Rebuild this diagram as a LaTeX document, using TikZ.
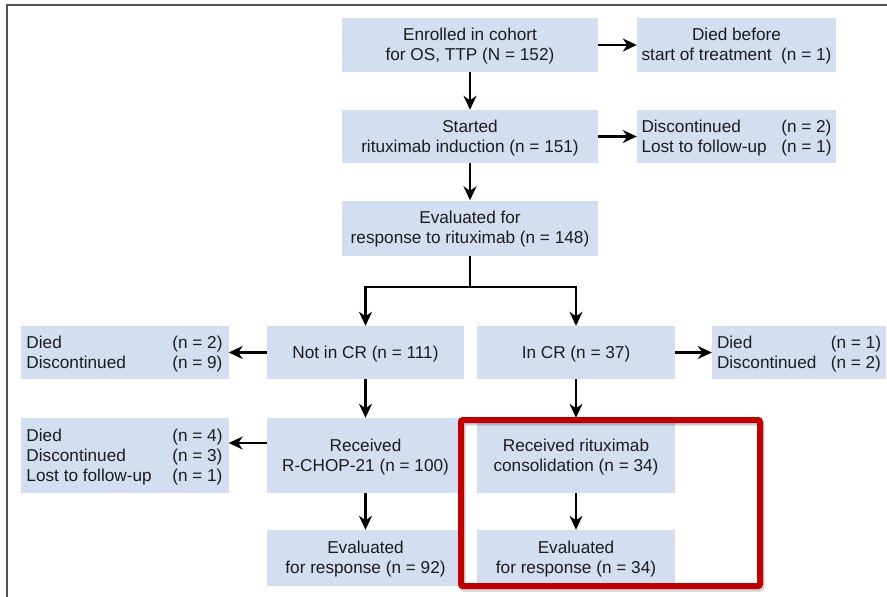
\documentclass[tikz,border=0pt]{standalone}
\usepackage{fontspec}
\setmainfont{Liberation Sans}
\usetikzlibrary{arrows.meta}
\definecolor{boxblue}{HTML}{D3DEF1}
\definecolor{textc}{HTML}{1E1B1C}
\definecolor{framec}{HTML}{505050}
\definecolor{redc}{HTML}{C00000}
\newcommand{\ctext}[1]{\raisebox{-1.5pt}[\height][\depth]{\begin{tabular}{@{}c@{}}#1\end{tabular}}}
\newcommand{\twocol}[2]{\raisebox{-1.5pt}[\height][\depth]{\begin{tabular*}{#1}{@{}l@{\extracolsep{\fill}}r@{}}#2\end{tabular*}}}
\tikzset{
  box/.style={fill=boxblue, inner sep=0pt, text=textc, font=\fontsize{17.2}{20}\selectfont},
  arr/.style={line width=2.2pt, -{Stealth[length=14pt,width=13pt,inset=4.5pt]}},
  ln/.style={line width=2.2pt},
}
\begin{document}
\begin{tikzpicture}[x=1pt,y=-1pt]
\useasboundingbox (0,0) rectangle (887,597);
\draw[framec, line width=1.5pt] (7,597) -- (7,5) -- (887,5);

\node[box, minimum width=256pt, minimum height=54pt] (A) at (470,45) {\ctext{Enrolled in cohort\\for OS, TTP (N = 152)}};
\node[box, minimum width=199pt, minimum height=54pt] (B) at (736.5,45) {\ctext{Died before\\start of treatment\ \ (n = 1)}};
\node[box, minimum width=256pt, minimum height=53pt] (C) at (470,136.5) {\ctext{Started\\rituximab induction (n = 151)}};
\node[box, minimum width=199pt, minimum height=53pt] (D) at (736.5,136.5) {\twocol{190pt}{Discontinued & (n = 2)\\Lost to follow-up & (n = 1)}};
\node[box, minimum width=256pt, minimum height=55pt] (E) at (470,228) {\ctext{Evaluated for\\response to rituximab (n = 148)}};

\node[box, minimum width=208pt, minimum height=53pt] (I) at (124.5,352.5) {\twocol{196pt}{Died & (n = 2)\\Discontinued & (n = 9)}};
\node[box, minimum width=197pt, minimum height=53pt] (F) at (365.5,352.5) {\ctext{Not in CR (n = 111)}};
\node[box, minimum width=198pt, minimum height=53pt] (G) at (576,352.5) {\ctext{In CR (n = 37)}};
\node[box, minimum width=174pt, minimum height=53pt] (H) at (799,352.5) {\twocol{164pt}{Died & (n = 1)\\Discontinued & (n = 2)}};

\node[box, minimum width=208pt, minimum height=75pt] (L) at (124.5,455.5) {\twocol{196pt}{Died & (n = 4)\\Discontinued & (n = 3)\\Lost to follow-up & (n = 1)}};
\node[box, minimum width=197pt, minimum height=75pt] (J) at (365.5,455.5) {\ctext{Received\\R-CHOP-21 (n = 100)}};
\node[box, minimum width=198pt, minimum height=75pt] (K) at (576,455.5) {\ctext{Received rituximab\\consolidation (n = 34)}};

\node[box, minimum width=197pt, minimum height=56pt] (M) at (365.5,558) {\ctext{Evaluated\\for response (n = 92)}};
\node[box, minimum width=198pt, minimum height=56pt] (N) at (576,558) {\ctext{Evaluated\\for response (n = 34)}};

\draw[arr] (A.east) -- (B.west);
\draw[arr] (C.east) -- (D.west);
\draw[arr] (A.south) -- (C.north);
\draw[arr] (C.south) -- (E.north);
\coordinate (sp) at (470,287);
\draw[ln] (E.south) -- (sp);
\draw[arr] (sp) -| (F.north);
\draw[arr] (sp) -| (G.north);
\draw[arr] (F.west) -- (I.east);
\draw[arr] (G.east) -- (H.west);
\draw[arr] (F.south) -- (J.north);
\draw[arr] (G.south) -- (K.north);
\draw[arr] ([yshift=12.5pt]J.west) -- ([yshift=12.5pt]L.east);
\draw[arr] (J.south) -- (M.north);
\draw[arr] (K.south) -- (N.north);

\draw[black, opacity=0.18, line width=6pt, rounded corners=2pt] (462.5,422.5) rectangle (761.5,588.5);
\draw[redc, line width=6pt, rounded corners=2pt] (461,420) rectangle (760,586);
\end{tikzpicture}
\end{document}
